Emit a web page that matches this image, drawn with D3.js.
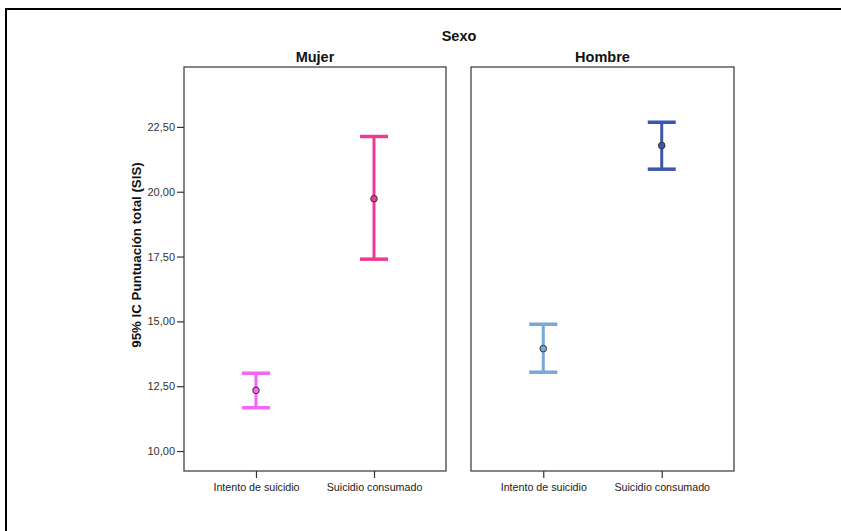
<!DOCTYPE html>
<html>
<head>
<meta charset="utf-8">
<script src="https://cdn.jsdelivr.net/npm/d3@7"></script>
<style>
  html, body { margin: 0; padding: 0; background: #fff; }
  svg { display: block; font-family: "Liberation Sans", Arial, sans-serif; }
</style>
</head>
<body>
<svg id="chart" width="841" height="531"></svg>
<script>
// Panels (sex) and categories within each panel
const sexes = ["Mujer", "Hombre"];
const categories = ["Intento de suicidio", "Suicidio consumado"];

// Mean and 95% CI bounds of the SIS total score
const mujerMean  = [12.34, 19.73];
const mujerLower = [11.67, 17.40];
const mujerUpper = [13.00, 22.13];

const hombreMean  = [13.95, 21.78];
const hombreLower = [13.04, 20.87];
const hombreUpper = [14.89, 22.68];

const yTicks = [10, 12.5, 15, 17.5, 20, 22.5];

// Colours per panel, one per category
const palette = {
  Mujer:  ["#f466f4", "#ee3a95"],
  Hombre: ["#7ba7d7", "#3b56aa"]
};

const series = {
  Mujer:  { mean: mujerMean,  lower: mujerLower,  upper: mujerUpper },
  Hombre: { mean: hombreMean, lower: hombreLower, upper: hombreUpper }
};

const svg = d3.select("#chart");

// Outer frame (top and left edges)
svg.append("path")
  .attr("d", "M6,531 V9 H841")
  .attr("fill", "none")
  .attr("stroke", "#000")
  .attr("stroke-width", 2);

const panelTop = 67, panelBottom = 471;
const panelX = { Mujer: [184, 446], Hombre: [471, 734] };

const y = d3.scaleLinear().domain([9.23, 24.81]).range([panelBottom, panelTop]);

const fmt = d => d3.format(".2f")(d).replace(".", ",");

// Overall title
svg.append("text")
  .attr("x", 459).attr("y", 41)
  .attr("text-anchor", "middle")
  .attr("font-weight", "bold")
  .attr("font-size", 14.5)
  .attr("fill", "#111")
  .text("Sexo");

// Y axis title
svg.append("text")
  .attr("transform", "translate(141,255) rotate(-90)")
  .attr("text-anchor", "middle")
  .attr("font-weight", "bold")
  .attr("font-size", 13.3)
  .attr("fill", "#111")
  .text("95% IC Puntuación total (SIS)");

sexes.forEach((sex, i) => {
  const [x0, x1] = panelX[sex];
  const x = d3.scalePoint().domain(categories).range([x0, x1]).padding(0.61);
  const g = svg.append("g");

  // Panel header
  g.append("text")
    .attr("x", (x0 + x1) / 2).attr("y", 62)
    .attr("text-anchor", "middle")
    .attr("font-weight", "bold")
    .attr("font-size", 14.5)
    .attr("fill", "#111")
    .text(sex);

  // Panel frame
  g.append("rect")
    .attr("x", x0).attr("y", panelTop)
    .attr("width", x1 - x0).attr("height", panelBottom - panelTop)
    .attr("fill", "#fff")
    .attr("stroke", "#444")
    .attr("stroke-width", 1.3);

  // Category axis
  const xAxis = g.append("g")
    .attr("transform", `translate(0,${panelBottom})`)
    .call(d3.axisBottom(x).tickSize(7).tickPadding(5));
  xAxis.select(".domain").remove();
  xAxis.selectAll(".tick line").attr("stroke", "#333").attr("stroke-width", 1.2);
  xAxis.selectAll(".tick text")
    .attr("font-size", 10.7)
    .attr("font-family", "'Liberation Sans', Arial, sans-serif")
    .attr("fill", "#222");

  // Value axis on the first panel only
  if (i === 0) {
    const yAxis = g.append("g")
      .attr("transform", `translate(${x0},0)`)
      .call(d3.axisLeft(y).tickValues(yTicks).tickFormat(fmt).tickSize(7).tickPadding(2));
    yAxis.select(".domain").remove();
    yAxis.selectAll(".tick line").attr("stroke", "#333").attr("stroke-width", 1.2);
    yAxis.selectAll(".tick text")
      .attr("font-size", 11)
      .attr("font-family", "'Liberation Sans', Arial, sans-serif")
      .attr("fill", "#333");
  }

  // Error bars with caps and mean markers
  const s = series[sex];
  const capHalf = 14;
  categories.forEach((c, j) => {
    const cx = x(c);
    const col = palette[sex][j];
    const bar = g.append("g");
    bar.append("line")
      .attr("x1", cx).attr("x2", cx)
      .attr("y1", y(s.lower[j])).attr("y2", y(s.upper[j]))
      .attr("stroke", col).attr("stroke-width", 3);
    [s.lower[j], s.upper[j]].forEach(v => {
      bar.append("line")
        .attr("x1", cx - capHalf).attr("x2", cx + capHalf)
        .attr("y1", y(v)).attr("y2", y(v))
        .attr("stroke", col).attr("stroke-width", 3.5);
    });
    bar.append("circle")
      .attr("cx", cx).attr("cy", y(s.mean[j]))
      .attr("r", 3.3)
      .attr("fill", col)
      .attr("stroke", "#333")
      .attr("stroke-width", 1);
  });
});
</script>
</body>
</html>
